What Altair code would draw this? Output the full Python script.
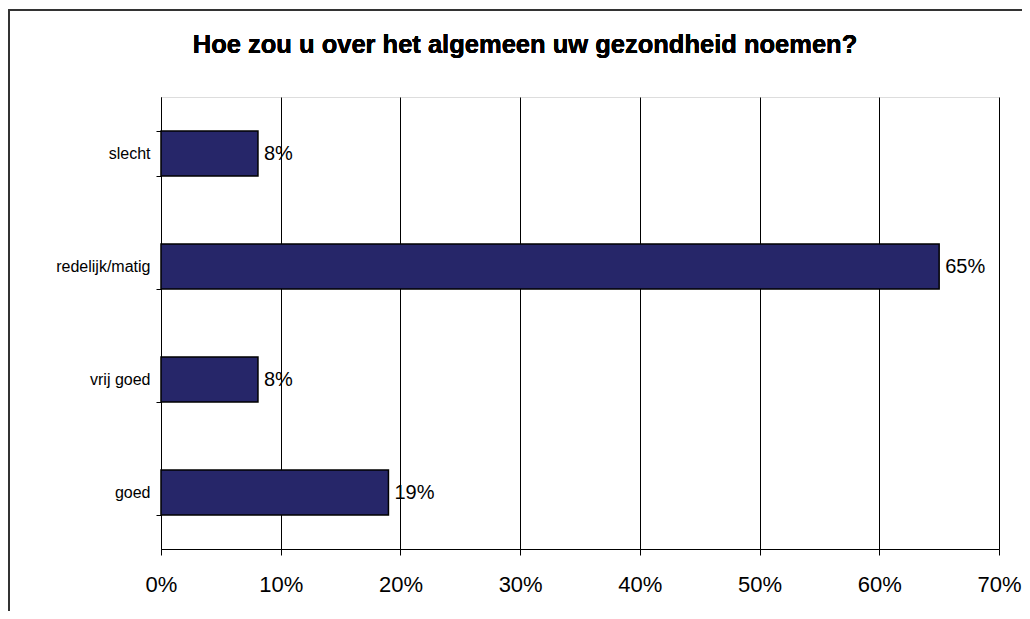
import altair as alt
import pandas as pd

categories = ["slecht", "redelijk/matig", "vrij goed", "goed"]
values = [0.081, 0.65, 0.081, 0.19]
labels = ["8%", "65%", "8%", "19%"]
x_ticks = [0, 0.1, 0.2, 0.3, 0.4, 0.5, 0.6, 0.7]
title_text = "Hoe zou u over het algemeen uw gezondheid noemen?"

df = pd.DataFrame({"cat": categories, "val": values, "lab": labels})

FONT = "Liberation Sans"
W, H = 838, 452

yenc = alt.Y("cat:N", sort=categories, title=None,
             scale=alt.Scale(paddingInner=0.6, paddingOuter=0.3),
             axis=alt.Axis(tickBand="extent", tickSize=5, tickColor="#000",
                           domainColor="#000", labelFont=FONT, labelFontSize=16,
                           labelColor="#000", labelPadding=6, grid=False))
xenc = alt.X("val:Q", title=None,
             scale=alt.Scale(domain=[0, 0.7], nice=False),
             axis=alt.Axis(values=x_ticks, format=".0%", tickSize=6, tickColor="#000",
                           domainColor="#000", labelFont=FONT, labelFontSize=22,
                           labelColor="#000", labelPadding=19, labelFlush=False,
                           grid=True, gridColor="#000", gridOpacity=1, gridWidth=1))

bars = alt.Chart(df).mark_bar(color="#262669", stroke="#000", strokeWidth=1.5).encode(
    x=xenc, y=yenc)

text = alt.Chart(df).mark_text(align="left", baseline="middle", dx=6, font=FONT,
                               fontSize=20, color="#000").encode(
    x="val:Q", y=alt.Y("cat:N", sort=categories), text="lab:N")

border = alt.Chart(df).mark_rect(fill=None, stroke="#333", strokeWidth=1.5).encode(
    x=alt.value(-152), x2=alt.value(900), y=alt.value(-87), y2=alt.value(560))

title = alt.Chart(df).mark_text(text=title_text, font=FONT, fontSize=25.5,
                                fontWeight="bold", color="#000", align="center",
                                baseline="middle").encode(
    x=alt.value(W / 2 - 55), y=alt.value(-52))

chart = alt.layer(border, bars, text, title).properties(
    width=W, height=H,
    autosize="none",
    padding={"left": 153, "top": 89, "right": 23, "bottom": 62},
).configure_view(stroke="#808080", strokeWidth=1.5).configure(background="white")

chart.save("out.html", embed_options={"renderer": "svg", "actions": False})
